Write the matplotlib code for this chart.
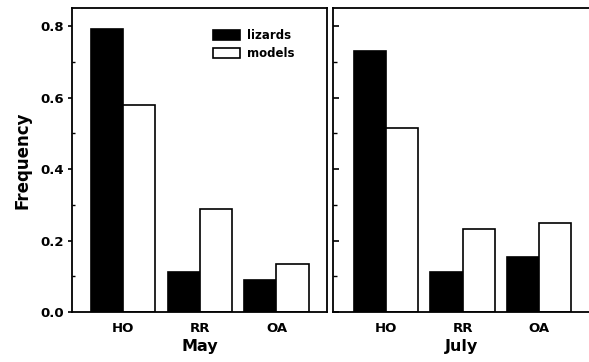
import matplotlib.pyplot as plt
import numpy as np
from matplotlib.ticker import MultipleLocator

plt.rcParams['font.family'] = ['DejaVu Sans']
plt.rcParams['font.weight'] = 'bold'

categories = ["HO", "RR", "OA"]
may_lizards = [0.793, 0.113, 0.090]
may_models = [0.580, 0.287, 0.134]
july_lizards = [0.732, 0.111, 0.155]
july_models = [0.516, 0.233, 0.250]

fig = plt.figure(figsize=(5.89, 3.62), dpi=100)
ax1 = fig.add_axes([72/589, 1-312/362, 255/589, 304/362])
ax2 = fig.add_axes([333/589, 1-312/362, 256/589, 304/362])

x = np.arange(len(categories))
w = 0.42

for ax, liz, mod, month, xl in [(ax1, may_lizards, may_models, "May", (-0.67, 2.66)),
                                (ax2, july_lizards, july_models, "July", (-0.69, 2.65))]:
    ax.bar(x - w/2, liz, w, color='black', edgecolor='black', linewidth=1.2, label='lizards')
    ax.bar(x + w/2, mod, w, color='white', edgecolor='black', linewidth=1.2, label='models')
    ax.set_xlim(*xl)
    ax.set_ylim(0, 0.851)
    ax.set_xticks(x)
    ax.set_xticklabels(categories, fontsize=9.5, fontweight='bold')
    ax.tick_params(axis='x', length=0, pad=7)
    ax.yaxis.set_major_locator(MultipleLocator(0.2))
    ax.yaxis.set_minor_locator(MultipleLocator(0.1))
    ax.set_xlabel(month, fontsize=11.5, fontweight='bold', labelpad=3)
    for s in ax.spines.values():
        s.set_linewidth(1.3)

ax1.tick_params(axis='y', which='major', direction='out', length=3, width=1.2, labelsize=9.5, pad=3)
ax1.tick_params(axis='y', which='minor', direction='in', length=2, width=1.0)
ax1.yaxis.set_major_formatter(plt.FormatStrFormatter('%.1f'))
ax1.set_ylabel("Frequency", fontsize=12, fontweight='bold', labelpad=6)

ax2.tick_params(axis='y', which='major', direction='in', length=4, width=1.2, labelleft=False)
ax2.tick_params(axis='y', which='minor', direction='in', length=3, width=1.0)
ax2.spines['right'].set_visible(False)

ax1.legend(loc='upper left', bbox_to_anchor=((213-72)/255, (312-29)/304), frameon=False, fontsize=8.5,
           handlelength=2.3, handleheight=0.95, handletextpad=0.55, labelspacing=0.45,
           borderpad=0, borderaxespad=0)

fig.savefig("out.png", dpi=100)
